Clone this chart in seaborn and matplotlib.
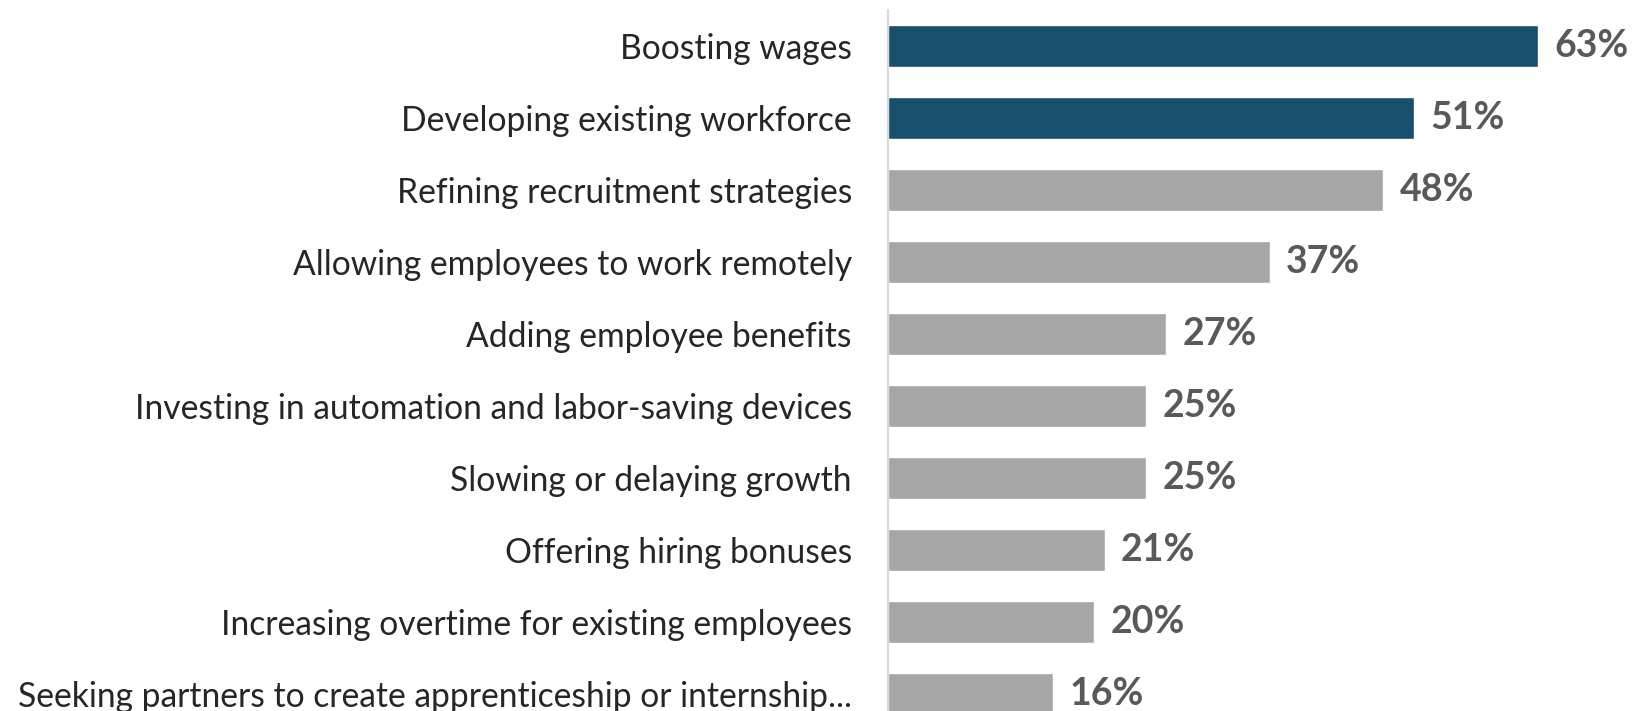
import pandas as pd
import numpy as np
import matplotlib.pyplot as plt
import seaborn as sns

# Chart data
categories = [
    'Boosting wages',
    'Developing existing workforce',
    'Refining recruitment strategies',
    'Allowing employees to work remotely',
    'Adding employee benefits',
    'Investing in automation and labor-saving devices',
    'Slowing or delaying growth',
    'Offering hiring bonuses',
    'Increasing overtime for existing employees',
    'Seeking partners to create apprenticeship or internship...',
]
values = [63, 51, 48, 37, 27, 25, 25, 21, 20, 16]
highlight = [True, True, False, False, False, False, False, False, False, False]

df = pd.DataFrame({'Strategy': categories, 'Share': values})
colors = ['#174F6C' if h else '#A6A6A6' for h in highlight]

sns.set_style('white')
plt.rcParams['font.family'] = ['Lato', 'DejaVu Sans']

fig = plt.figure(figsize=(16.41, 7.11), dpi=100)
ax = fig.add_axes([888 / 1641, -19 / 711, 722 / 1641, 720 / 711])

sns.barplot(data=df, x='Share', y='Strategy', hue='Strategy', palette=colors,
            legend=False, width=0.59, saturation=1, ax=ax)

ax.set_xlim(0, 70)
ax.set_xlabel('')
ax.set_ylabel('')
ax.set_xticks([])
ax.tick_params(axis='y', length=0, pad=26, labelsize=24.2, labelcolor='#262626')
for side in ['top', 'right', 'bottom']:
    ax.spines[side].set_visible(False)
ax.spines['left'].set_color('#D9D9D9')
ax.spines['left'].set_linewidth(1.5)

# Value labels
for i, v in enumerate(values):
    ax.text(v + 1.6, i, f'{v}%', va='center', ha='left', fontsize=27,
            fontweight='bold', color='#595959', clip_on=False)

fig.savefig('out.png', dpi=100)
